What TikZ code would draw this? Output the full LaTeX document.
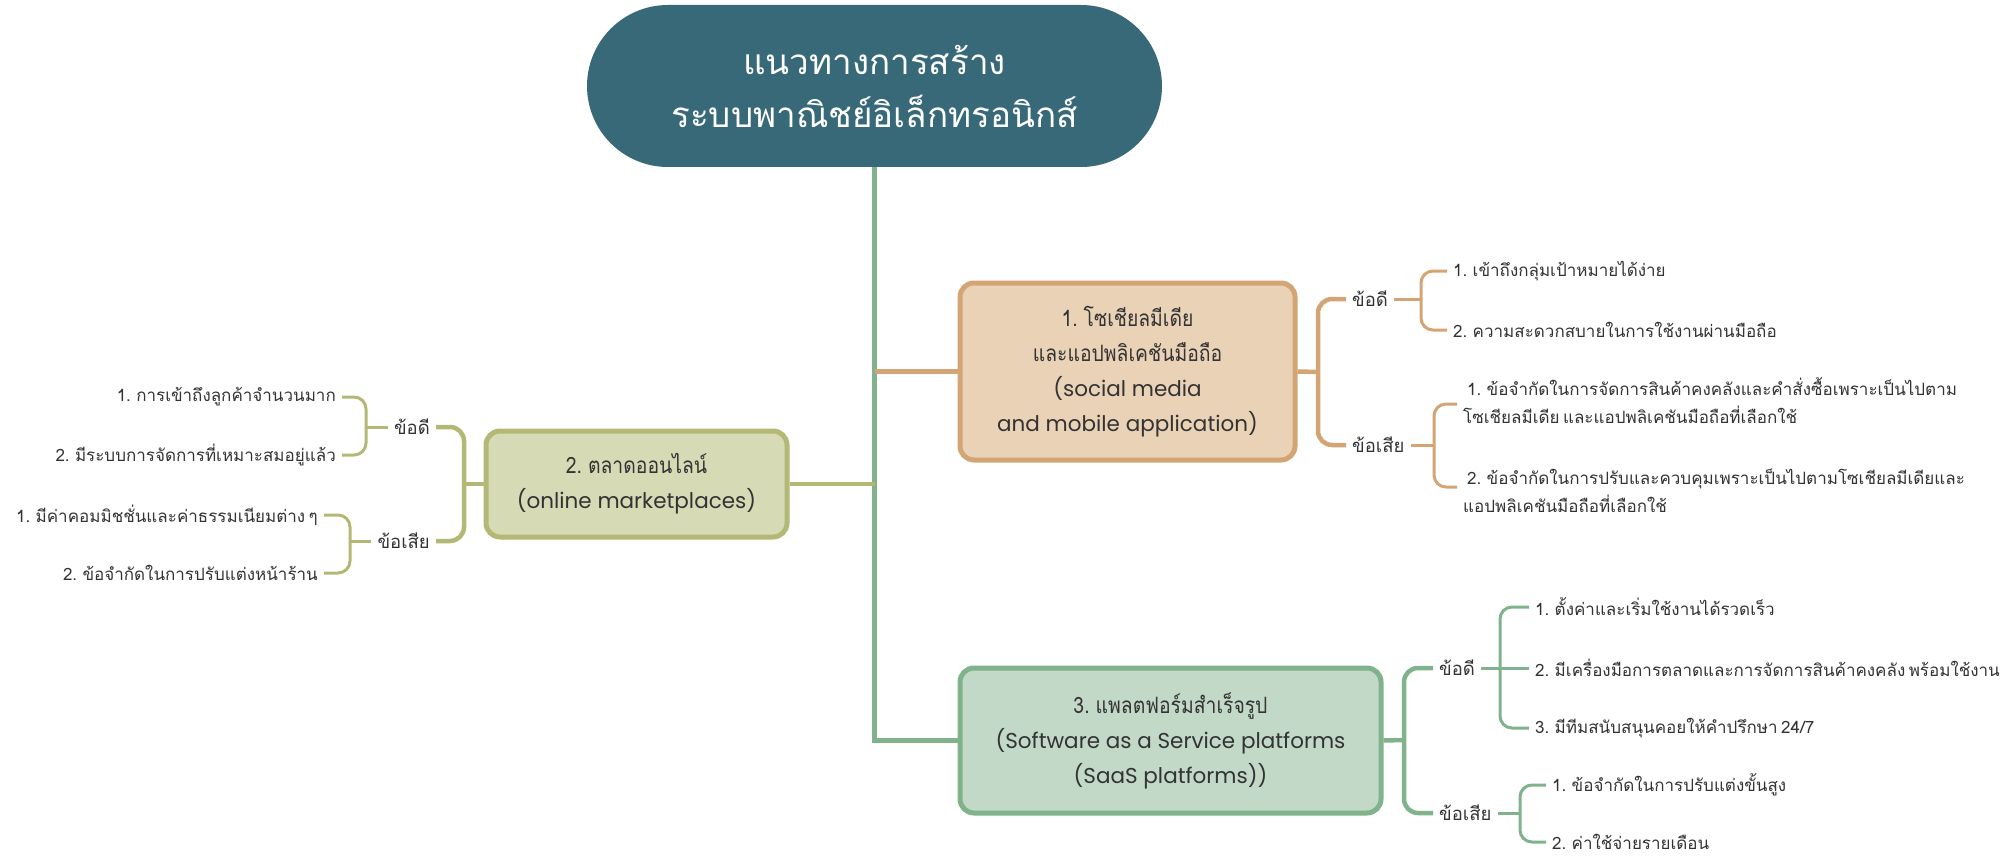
\documentclass[tikz,border=0pt]{standalone}
\usepackage{fontspec}
\newfontfamily\thai[Script=Thai,WordSpace=0.6]{Loma}
\newfontfamily\thaibox[Script=Thai,WordSpace=0.6,FakeStretch=0.86]{Loma}
\newfontfamily\latn{Poppins}
\definecolor{rootc}{HTML}{386978}
\definecolor{tanb}{HTML}{D4A574}
\definecolor{tanf}{HTML}{E9D2B6}
\definecolor{oliveb}{HTML}{B3B974}
\definecolor{olivef}{HTML}{D6DAB5}
\definecolor{greenb}{HTML}{80B28B}
\definecolor{greenf}{HTML}{C1D9C6}
\definecolor{txt}{HTML}{333333}
\newcommand{\lt}[1]{{\latn\fontsize{21.5}{35}\selectfont #1}}
\tikzset{
  box/.style={draw, line width=5pt, rounded corners=14pt, align=center, text=txt,
    font=\thaibox\fontsize{22.5}{35}\selectfont, inner sep=0pt},
  lab/.style={text=txt, font=\thai\fontsize{18.5}{26}\selectfont, inner sep=6pt},
  item/.style={text=txt, font=\thai\fontsize{17}{28}\selectfont, inner sep=6pt, align=left},
  itemr/.style={text=txt, font=\thai\fontsize{17}{28}\selectfont, inner sep=6pt, align=right},
  main/.style={line width=4.5pt},
  sub/.style={line width=3pt, rounded corners=12pt},
}
\begin{document}
\begin{tikzpicture}[x=1pt,y=-1pt]
\useasboundingbox (0,0) rectangle (2011,856);
% root
\node[fill=rootc, rounded corners=81pt, minimum width=575pt, minimum height=162pt,
  text=white, align=center, font=\thai\fontsize{35}{53}\selectfont] (root) at (874.5,86)
  {แนวทางการสร้าง\\ระบบพาณิชย์อิเล็กทรอนิกส์};
% main boxes
\node[box, draw=tanb, fill=tanf, minimum width=335pt, minimum height=177pt] (n1) at (1127.5,371.5)
  {1. โซเชียลมีเดีย\\และแอปพลิเคชันมือถือ\\\lt{(social media}\\\lt{and mobile application)}};
\node[box, draw=oliveb, fill=olivef, minimum width=301pt, minimum height=106pt] (n2) at (636.5,484)
  {2. ตลาดออนไลน์\\\lt{(online marketplaces)}};
\node[box, draw=greenb, fill=greenf, minimum width=421pt, minimum height=145pt] (n3) at (1170.5,740.5)
  {3. แพลตฟอร์มสำเร็จรูป\\\lt{(Software as a Service platforms}\\\lt{(SaaS platforms))}};
% trunk and branches
\draw[main, greenb] (root.south) -- (root.south |- n3.west) -- (n3.west);
\draw[main, tanb] (root.south |- n1.west) -- (n1.west);
\draw[main, oliveb] (root.south |- n2.east) -- (n2.east);
% ---- node 1 right side
\coordinate (b1) at (1318,372);
\node[lab, anchor=west] (a1) at (1346,299) {ข้อดี};
\node[lab, anchor=west] (d1) at (1346,445) {ข้อเสีย};
\draw[main, tanb] (n1.east) -- (b1);
\draw[main, tanb, rounded corners=14pt] (a1.west) -| (b1) |- (d1.west);
\coordinate (s11) at (1421,299);
\node[item, anchor=west] (p11) at (1447,271) {1. เข้าถึงกลุ่มเป้าหมายได้ง่าย};
\node[item, anchor=west] (p12) at (1447,330) {2. ความสะดวกสบายในการใช้งานผ่านมือถือ};
\draw[sub, tanb] (a1.east) -- (s11);
\draw[sub, tanb] (p11.west) -| (s11) |- (p12.west);
\coordinate (s12) at (1434,445);
\node[item, anchor=west] (p13) at (1457,401) {\hspace{4pt}1. ข้อจำกัดในการจัดการสินค้าคงคลังและคำสั่งซื้อเพราะเป็นไปตาม\\โซเชียลมีเดีย และแอปพลิเคชันมือถือที่เลือกใช้};
\node[item, anchor=west] (p14) at (1457,491) {\hspace{4pt}2. ข้อจำกัดในการปรับและควบคุมเพราะเป็นไปตามโซเชียลมีเดียและ\\แอปพลิเคชันมือถือที่เลือกใช้};
\draw[sub, tanb] (d1.east) -- (s12);
\draw[sub, tanb] (p13.west |- 0,404) -| (s12) |- (p14.west |- 0,487);
% ---- node 2 left side
\coordinate (b2) at (464,484);
\node[lab, anchor=east] (a2) at (436,427) {ข้อดี};
\node[lab, anchor=east] (d2) at (436,541) {ข้อเสีย};
\draw[main, oliveb] (n2.west) -- (b2);
\draw[main, oliveb, rounded corners=14pt] (a2.east) -| (b2) |- (d2.east);
\coordinate (s21) at (366,427);
\node[itemr, anchor=east] (p21) at (342,397) {1. การเข้าถึงลูกค้าจำนวนมาก};
\node[itemr, anchor=east] (p22) at (342,455) {2. มีระบบการจัดการที่เหมาะสมอยู่แล้ว};
\draw[sub, oliveb] (a2.west) -- (s21);
\draw[sub, oliveb] (p21.east) -| (s21) |- (p22.east);
\coordinate (s22) at (350,541);
\node[itemr, anchor=east] (p23) at (324,515) {1. มีค่าคอมมิชชั่นและค่าธรรมเนียมต่าง ๆ};
\node[itemr, anchor=east] (p24) at (324,573) {2. ข้อจำกัดในการปรับแต่งหน้าร้าน};
\draw[sub, oliveb] (d2.west) -- (s22);
\draw[sub, oliveb] (p23.east) -| (s22) |- (p24.east);
% ---- node 3 right side
\coordinate (b3) at (1404,740);
\node[lab, anchor=west] (a3) at (1433,668) {ข้อดี};
\node[lab, anchor=west] (d3) at (1433,813) {ข้อเสีย};
\draw[main, greenb] (n3.east) -- (b3);
\draw[main, greenb, rounded corners=14pt] (a3.west) -| (b3) |- (d3.west);
\coordinate (s31) at (1500,668);
\node[item, anchor=west] (q31) at (1529,607) {1. ตั้งค่าและเริ่มใช้งานได้รวดเร็ว};
\node[item, anchor=west] (q32) at (1529,668) {2. มีเครื่องมือการตลาดและการจัดการสินค้าคงคลัง พร้อมใช้งาน};
\node[item, anchor=west] (q33) at (1529,728) {3. มีทีมสนับสนุนคอยให้คำปรึกษา 24/7};
\draw[sub, greenb] (a3.east) -- (q32.west);
\draw[sub, greenb] (q31.west) -| (s31) |- (q33.west);
\coordinate (s32) at (1520,813);
\node[item, anchor=west] (q34) at (1546,785) {1. ข้อจำกัดในการปรับแต่งขั้นสูง};
\node[item, anchor=west] (q35) at (1546,842) {2. ค่าใช้จ่ายรายเดือน};
\draw[sub, greenb] (d3.east) -- (s32);
\draw[sub, greenb] (q34.west) -| (s32) |- (q35.west);
\end{tikzpicture}
\end{document}
